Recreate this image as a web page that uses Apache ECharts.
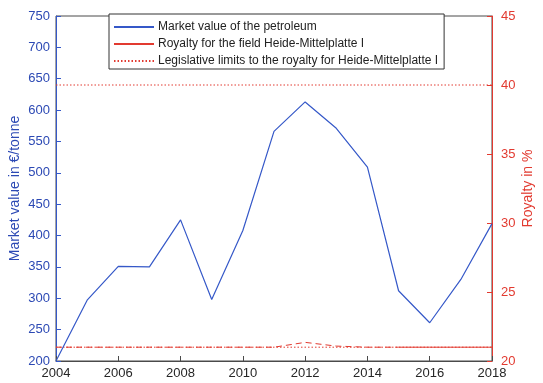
<!DOCTYPE html>
<html>
<head>
<meta charset="utf-8">
<script src="https://cdn.jsdelivr.net/npm/echarts@6/dist/echarts.min.js"></script>
<style>
  html, body { margin: 0; padding: 0; background: #fff; }
  #chart { width: 543px; height: 383px; }
</style>
</head>
<body>
<div id="chart"></div>
<script>
// Years on the x axis
const years = [2004, 2005, 2006, 2007, 2008, 2009, 2010, 2011, 2012, 2013, 2014, 2015, 2016, 2017, 2018];
// Market value of the petroleum, EUR per tonne
const marketValue = [200, 297, 351, 350, 425, 298, 408, 566, 613, 571, 509, 312, 261, 330, 419];
// Royalty in percent (dashed up to 2015, solid afterwards)
const royaltyYearsEarly = [2004, 2005, 2006, 2007, 2008, 2009, 2010, 2011, 2012, 2013, 2014, 2015];
const royaltyEarly = [21, 21, 21, 21, 21, 21, 21, 21, 21.35, 21.08, 21, 21];
const royaltyYearsLate = [2015, 2016, 2017, 2018];
const royaltyLate = [21, 21, 21, 21];
// Legislative limits of the royalty, percent
const limitYears = [2004, 2018];
const limitUpper = [40, 40];
const limitLower = [21, 21];

const xTicks = { min: 2004, max: 2018, interval: 2 };
const leftTicks = { min: 200, max: 750, interval: 50 };
const rightTicks = { min: 20, max: 45, interval: 5 };

const BLUE = '#3558c8';
const BLUE_TEXT = '#2c49b4';
const RED = '#e23a30';
const FONT = 'Liberation Sans, Arial, Helvetica, sans-serif';

const pairs = (xs, ys) => xs.map((x, i) => [x, ys[i]]);

const NAME_MV = 'Market value of the petroleum';
const NAME_ROY = 'Royalty for the field Heide-Mittelplatte I';
const NAME_LIM = 'Legislative limits to the royalty for Heide-Mittelplatte I';

const chart = echarts.init(document.getElementById('chart'), null, { renderer: 'canvas' });
chart.setOption({
  animation: false,
  backgroundColor: '#fff',
  textStyle: { fontFamily: FONT },
  grid: {
    left: 56, right: 51, top: 16, bottom: 22,
    outerBoundsMode: 'none',
    show: true, borderColor: '#4a4a4a', borderWidth: 1, backgroundColor: 'transparent'
  },
  legend: {
    data: [NAME_MV, NAME_ROY, NAME_LIM],
    orient: 'vertical',
    left: 109, top: 14,
    itemWidth: 40, itemHeight: 14, itemGap: 5,
    padding: [7, 6, 2, 4],
    borderColor: '#333', borderWidth: 1,
    backgroundColor: '#fff',
    itemStyle: { opacity: 0 },
    textStyle: { fontFamily: FONT, fontSize: 12, color: '#222', padding: [0, 0, 0, -1] },
    selectedMode: false
  },
  xAxis: {
    type: 'value',
    min: xTicks.min, max: xTicks.max, interval: xTicks.interval,
    axisLine: { lineStyle: { color: '#4a4a4a', width: 1 } },
    axisTick: { inside: true, length: 5, lineStyle: { color: '#4a4a4a' } },
    axisLabel: { color: '#262626', fontSize: 13, fontFamily: FONT, margin: 6, formatter: v => String(v) },
    splitLine: { show: false }
  },
  yAxis: [
    {
      type: 'value', position: 'left',
      min: leftTicks.min, max: leftTicks.max, interval: leftTicks.interval,
      name: 'Market value in €/tonne', nameLocation: 'middle', nameGap: 34,
      nameMoveOverlap: false,
      nameTextStyle: { color: BLUE_TEXT, fontSize: 14, fontFamily: FONT },
      axisLine: { show: true, lineStyle: { color: BLUE, width: 1 } },
      axisTick: { inside: true, length: 5, lineStyle: { color: BLUE } },
      axisLabel: { color: BLUE_TEXT, fontSize: 13, fontFamily: FONT, margin: 6 },
      splitLine: { show: false }
    },
    {
      type: 'value', position: 'right',
      min: rightTicks.min, max: rightTicks.max, interval: rightTicks.interval,
      name: 'Royalty in %', nameLocation: 'middle', nameGap: 29,
      nameMoveOverlap: false,
      nameTextStyle: { color: RED, fontSize: 14, fontFamily: FONT },
      axisLine: { show: true, lineStyle: { color: RED, width: 1 } },
      axisTick: { inside: true, length: 5, lineStyle: { color: RED } },
      axisLabel: { color: RED, fontSize: 13, fontFamily: FONT, margin: 9 },
      splitLine: { show: false }
    }
  ],
  series: [
    {
      name: NAME_MV, type: 'line', yAxisIndex: 0,
      data: pairs(years, marketValue),
      symbol: 'none', lineStyle: { color: BLUE, width: 1.2 }, itemStyle: { color: BLUE },
      z: 5
    },
    {
      name: NAME_LIM, type: 'line', yAxisIndex: 1,
      data: pairs(limitYears, limitUpper),
      symbol: 'none', lineStyle: { color: RED, width: 1, type: [1.5, 2] }, itemStyle: { color: RED },
      z: 3
    },
    {
      name: NAME_LIM, type: 'line', yAxisIndex: 1,
      data: pairs(limitYears, limitLower),
      symbol: 'none', lineStyle: { color: RED, width: 1, type: [1.5, 2] }, itemStyle: { color: RED },
      z: 3
    },
    {
      name: NAME_ROY, type: 'line', yAxisIndex: 1,
      data: pairs(royaltyYearsLate, royaltyLate),
      symbol: 'none', lineStyle: { color: RED, width: 1 }, itemStyle: { color: RED },
      z: 4
    },
    {
      name: 'royalty-early', type: 'line', yAxisIndex: 1,
      data: pairs(royaltyYearsEarly, royaltyEarly),
      symbol: 'none', lineStyle: { color: RED, width: 1, type: [6, 4] }, itemStyle: { color: RED },
      z: 4
    }
  ]
});
</script>
</body>
</html>
